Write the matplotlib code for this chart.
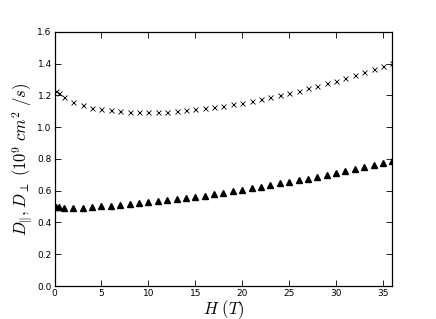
import matplotlib
matplotlib.use("Agg")
import matplotlib.pyplot as plt

# field values (T)
H = [0.2, 0.5, 1, 2, 3, 4, 5, 6, 7, 8, 9, 10, 11, 12, 13, 14, 15, 16, 17, 18,
     19, 20, 21, 22, 23, 24, 25, 26, 27, 28, 29, 30, 31, 32, 33, 34, 35, 36]

# diffusion coefficients (10^9 cm^2/s)
D_cross = [1.230, 1.218, 1.193, 1.161, 1.142, 1.123, 1.115, 1.109, 1.102, 1.096,
           1.094, 1.094, 1.094, 1.096, 1.102, 1.109, 1.115, 1.123, 1.127, 1.134,
           1.145, 1.155, 1.167, 1.178, 1.191, 1.203, 1.218, 1.230, 1.245, 1.262,
           1.277, 1.293, 1.310, 1.327, 1.348, 1.365, 1.384, 1.403]
D_tri = [0.497, 0.496, 0.494, 0.491, 0.494, 0.498, 0.502, 0.506, 0.511, 0.517,
         0.522, 0.527, 0.535, 0.541, 0.548, 0.555, 0.563, 0.569, 0.578, 0.586,
         0.596, 0.605, 0.614, 0.626, 0.638, 0.647, 0.657, 0.668, 0.676, 0.689,
         0.699, 0.714, 0.726, 0.739, 0.752, 0.764, 0.777, 0.789]

plt.rcParams['mathtext.fontset'] = 'cm'

fig = plt.figure(figsize=(4.36, 3.19), dpi=100)
ax = fig.add_axes([0.125, 0.1034, 0.775, 0.7966])

ax.plot(H, D_cross, linestyle='none', marker='x', color='black', markersize=3.6, markeredgewidth=0.6)
ax.plot(H, D_tri, linestyle='none', marker='^', color='black', markersize=3.8)

ax.set_xlim(0, 36)
ax.set_ylim(0, 1.6)
ax.set_xticks([0, 5, 10, 15, 20, 25, 30, 35])
ax.set_yticks([0.0, 0.2, 0.4, 0.6, 0.8, 1.0, 1.2, 1.4, 1.6])
ax.set_yticklabels(['0.0', '0.2', '0.4', '0.6', '0.8', '1.0', '1.2', '1.4', '1.6'])
ax.tick_params(direction='in', top=True, right=True, labelsize=6.5, length=4, width=0.6, pad=2)
for s in ax.spines.values():
    s.set_linewidth(0.9)

ax.set_xlabel(r'$H\ (T)$', fontsize=12, labelpad=0)
ax.set_ylabel(r'$D_{\|}, D_{\perp}\ (10^9\ cm^2\ /s)$', fontsize=12, labelpad=2)

fig.savefig('out.png', dpi=100)
